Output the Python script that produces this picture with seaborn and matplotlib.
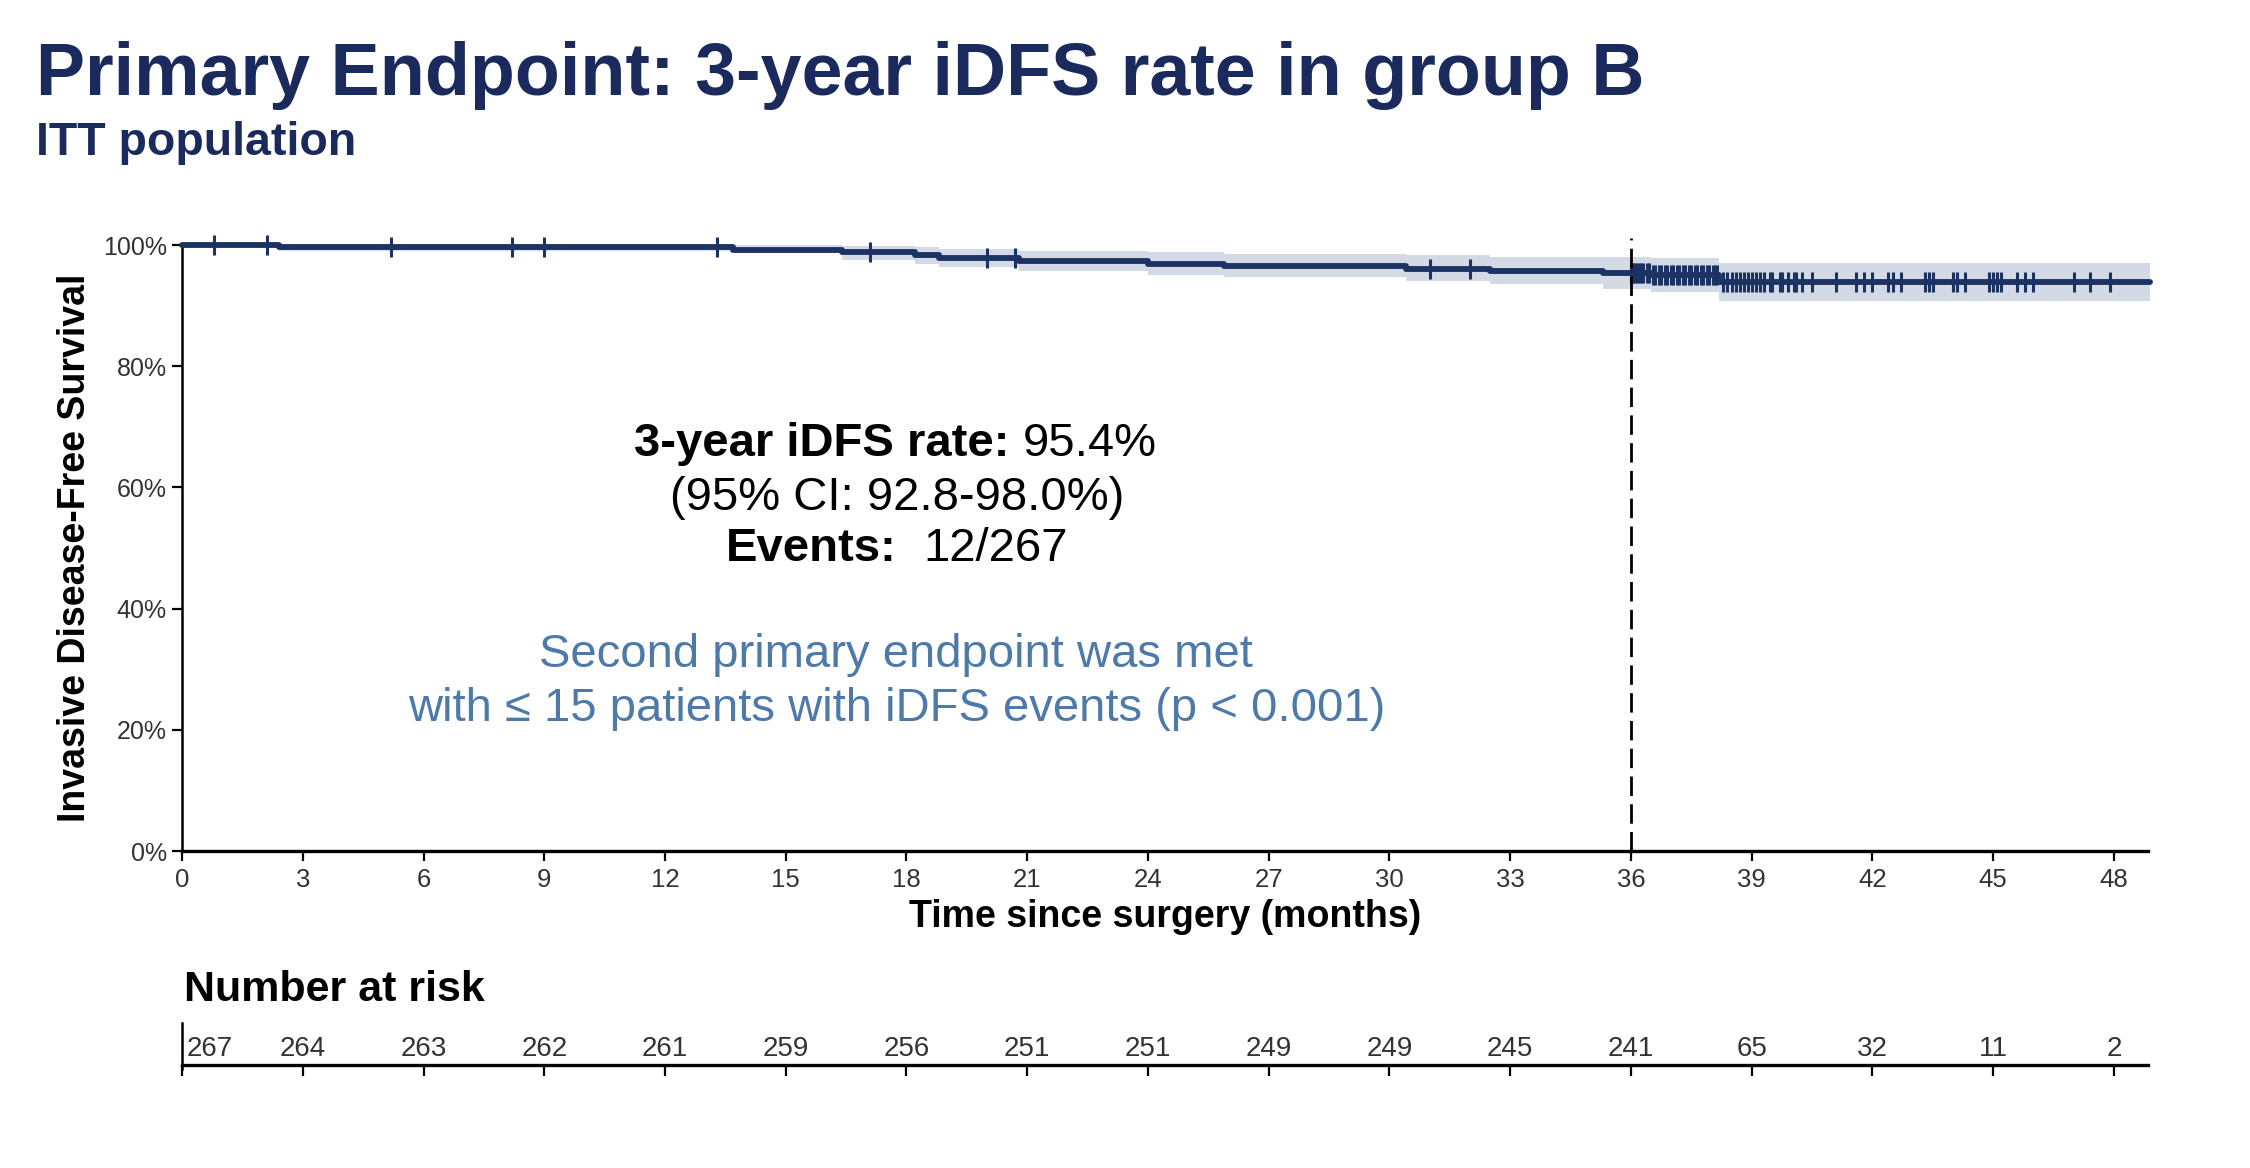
import numpy as np
import pandas as pd
import matplotlib
matplotlib.use('Agg')
import matplotlib.pyplot as plt
import seaborn as sns

sns.set_theme(style='white')
plt.rcParams['font.family'] = ['Liberation Sans', 'DejaVu Sans']

# KM curve (months, survival %)
km_time = [0, 2.4, 13.7, 16.4, 18.2, 18.8, 20.8, 24.0, 25.9, 30.4, 32.5, 35.3, 36.5, 38.2, 48.9]
km_surv = [100, 99.6, 99.25, 98.8, 98.3, 97.8, 97.4, 96.9, 96.6, 96.1, 95.7, 95.4, 95.0, 93.9, 93.9]
ci_low = [100, 99.1, 98.7, 97.6, 96.9, 96.3, 95.7, 95.1, 94.7, 94.1, 93.5, 92.8, 92.2, 90.7, 90.7]
ci_high = [100, 100, 100, 99.9, 99.7, 99.4, 99.1, 98.8, 98.6, 98.4, 98.1, 98.0, 97.8, 97.1, 97.1]

# censored observations (months)
censor_time = [0.8, 2.1, 5.2, 8.2, 9.0, 13.3, 17.1, 20.0, 20.7, 31.0, 32.0,
               36.0, 36.03, 36.06, 36.1, 36.15, 36.2, 36.25, 36.3, 36.4, 36.45,
               36.55, 36.6, 36.7, 36.75, 36.85, 36.9, 37.0, 37.05, 37.15, 37.2,
               37.3, 37.35, 37.45, 37.5, 37.6, 37.65, 37.75, 37.8, 37.9, 37.95,
               38.05, 38.1, 38.15, 38.3, 38.4, 38.5, 38.6, 38.7, 38.8, 38.9, 39.0,
               39.1, 39.2, 39.3, 39.45, 39.5, 39.7, 39.75, 39.9, 40.05, 40.1, 40.25,
               40.5, 41.1, 41.6, 41.8, 42.0, 42.4, 42.5, 42.7, 43.3, 43.4, 43.5,
               44.0, 44.1, 44.3, 44.9, 45.0, 45.1, 45.2, 45.6, 45.8, 46.0, 47.0,
               47.4, 47.9]

risk_time = [0, 3, 6, 9, 12, 15, 18, 21, 24, 27, 30, 33, 36, 39, 42, 45, 48]
risk_n = [267, 264, 263, 262, 261, 259, 256, 251, 251, 249, 249, 245, 241, 65, 32, 11, 2]

navy = '#1c3262'
title_navy = '#1b2a5c'
band = '#d3d9e5'
blue_txt = '#4d7aa8'
grey_txt = '#333333'

df = pd.DataFrame({'time': km_time, 'surv': np.array(km_surv) / 100})
idx = np.searchsorted(km_time, censor_time, side='right') - 1
cens = pd.DataFrame({'time': censor_time, 'surv': np.array(km_surv)[idx] / 100})

fig = plt.figure(figsize=(22.5, 11.68), dpi=100)
ax = fig.add_axes([0.0809, 0.2714, 0.8738, 0.5188])

ax.fill_between(km_time, np.array(ci_low) / 100, np.array(ci_high) / 100,
                step='post', color=band, lw=0, clip_on=False, zorder=1)
sns.lineplot(data=df, x='time', y='surv', ax=ax, estimator=None,
             drawstyle='steps-post', color=navy, lw=4.2, clip_on=False, zorder=3)
ax.plot(cens['time'], cens['surv'], ls='none', marker='|', ms=15, mew=2.2,
        color=navy, clip_on=False, zorder=4)
ax.plot([36, 36], [0, 1.012], color='black', lw=2, ls=(0, (7, 3)),
        clip_on=False, zorder=5)

ax.set_xlim(0, 48.85)
ax.set_ylim(0, 1.0)
ax.set_xticks(risk_time)
ax.set_yticks([0, 0.2, 0.4, 0.6, 0.8, 1.0])
ax.set_yticklabels(['0%', '20%', '40%', '60%', '80%', '100%'])
ax.tick_params(axis='x', direction='out', length=7, width=1.6, color='black',
               labelsize=18.5, labelcolor=grey_txt, pad=5, bottom=True)
ax.tick_params(axis='y', direction='out', length=7, width=1.6, color='black',
               labelsize=18, labelcolor=grey_txt, pad=4, left=True)
sns.despine(ax=ax)
ax.spines['bottom'].set_linewidth(2.4)
ax.spines['left'].set_linewidth(1.8)
ax.spines['bottom'].set_color('black')
ax.spines['left'].set_color('black')

ax.set_xlabel('Time since surgery (months)', fontsize=27, fontweight='bold', color='black')
ax.xaxis.label.set_va('center')
ax.xaxis.set_label_coords(0.5, -0.109)
ax.set_ylabel('Invasive Disease-Free Survival', fontsize=27, fontweight='bold', color='black')
ax.yaxis.label.set_va('center')
ax.yaxis.set_label_coords(-0.0544, 0.5)

# annotation lines with mixed weights
renderer = fig.canvas.get_renderer()
ax_w = ax.get_window_extent(renderer).width
space_px = 0.278 * 34 * 100 / 72


def mixed_line(xc, y, parts, color='black', size=34):
    texts = []
    widths = []
    for s, w, gap in parts:
        t = ax.text(0, y, s, transform=ax.transAxes, fontsize=size, fontweight=w,
                    color=color, ha='left', va='center')
        texts.append(t)
        widths.append(t.get_window_extent(renderer).width + gap * space_px)
    x = xc - sum(widths) / ax_w / 2
    for t, w in zip(texts, widths):
        t.set_x(x)
        x += w / ax_w


mixed_line(0.3627, 0.671, [('3-year iDFS rate:', 'bold', 1), ('95.4%', 'normal', 0)])
mixed_line(0.3635, 0.582, [('(95% CI: 92.8-98.0%)', 'normal', 0)])
mixed_line(0.3635, 0.498, [('Events:', 'bold', 2), ('12/267', 'normal', 0)])
ax.text(0.3633, 0.323, 'Second primary endpoint was met', transform=ax.transAxes,
        fontsize=34, color=blue_txt, ha='center', va='center')
ax.text(0.3633, 0.234, 'with \u2264 15 patients with iDFS events (p < 0.001)',
        transform=ax.transAxes, fontsize=34, color=blue_txt, ha='center', va='center')

# number at risk table
ax2 = fig.add_axes([0.0809, 0.0882, 0.8738, 0.036])
ax2.set_xlim(0, 48.85)
ax2.set_ylim(0, 1)
ax2.set_xticks(risk_time)
ax2.set_xticklabels([])
ax2.set_yticks([])
ax2.tick_params(axis='x', direction='out', length=8, width=1.6, color='black', bottom=True)
sns.despine(ax=ax2)
ax2.spines['bottom'].set_linewidth(2.4)
ax2.spines['left'].set_linewidth(1.8)
ax2.spines['bottom'].set_color('black')
ax2.spines['left'].set_color('black')
ax2.spines['left'].set_bounds(-0.1, 1)
for t, n in zip(risk_time, risk_n):
    if t == 0:
        ax2.text(0.12, 0.38, str(n), ha='left', va='center', fontsize=20, color=grey_txt)
    else:
        ax2.text(t, 0.38, str(n), ha='center', va='center', fontsize=20, color=grey_txt)

fig.text(0.0818, 0.152, 'Number at risk', fontsize=31, fontweight='bold',
         color='black', ha='left', va='center')

fig.text(0.016, 0.9187, 'Primary Endpoint: 3-year iDFS rate in group B', fontsize=53,
         fontweight='bold', color=title_navy, ha='left', va='baseline')
fig.text(0.016, 0.8673, 'ITT population', fontsize=33.5, fontweight='bold',
         color=title_navy, ha='left', va='baseline')

fig.savefig('out.png', dpi=100, facecolor='white')
